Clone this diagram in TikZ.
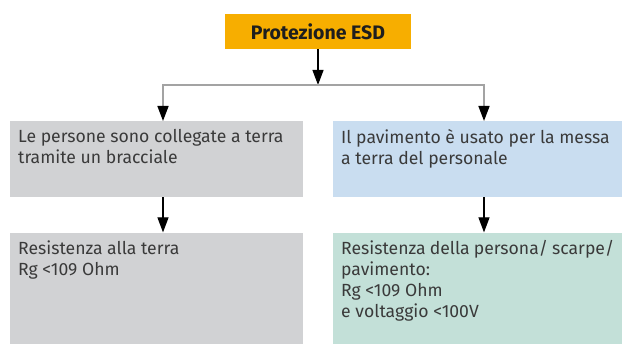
\documentclass[tikz,border=0pt]{standalone}
\usepackage{fontspec}
\setmainfont{Fira Sans}
\usepackage{tikz}
\usepackage{xcolor}
\usetikzlibrary{arrows.meta, calc, positioning}
\definecolor{esdorange}{HTML}{F7AE00}
\definecolor{wristgray}{HTML}{D1D2D4}
\definecolor{floorblue}{HTML}{C9DDF0}
\definecolor{floorgreen}{HTML}{C3E0D8}
\definecolor{textdark}{HTML}{3A3A3A}
\definecolor{titledark}{HTML}{1E1E1E}
\definecolor{linegray}{HTML}{A3A3A3}
% top-aligned text inside a fixed box
\newcommand{\boxtxt}[3]{\parbox[c][#1][t]{#2}{#3}}
\tikzset{
  % Title block
  title/.style={
    fill=esdorange, minimum width=186pt, minimum height=35pt,
    inner sep=0pt, text=titledark,
    font=\fontsize{19.5}{22}\selectfont\bfseries,
  },
  % Text boxes
  cellbox/.style={
    fill=#1, anchor=north west, inner xsep=8pt, inner ysep=8pt,
    text=textdark, align=left,
    font=\fontsize{17.6}{21}\selectfont,
  },
  % Arrows
  arr/.style={-{Triangle[length=15pt, width=11pt]}, line width=1.2pt, black},
  branch/.style={{Triangle[length=15pt, width=11pt, color=black]}-{Triangle[length=15pt, width=11pt, color=black]},
                 line width=1.5pt, linegray},
}
\begin{document}
\begin{tikzpicture}[x=1pt, y=1pt, node distance=35pt]
  \useasboundingbox (0,0) rectangle (622,344);
  \node[title] (esd) at (318,312.5) {Protezione ESD};
  \coordinate (barL) at (163,259);
  \coordinate (barR) at (484,259);
  \node[cellbox=wristgray] (pers) at (10,223)
    {\boxtxt{60pt}{277pt}{Le persone sono collegate a terra\\tramite un bracciale}};
  \node[cellbox=floorblue] (pav) at (333,223)
    {\boxtxt{60pt}{273pt}{Il pavimento è usato per la messa\\a terra del personale}};
  \node[cellbox=wristgray, below=of pers.south west, anchor=north west] (ress)
    {\boxtxt{96pt}{277pt}{Resistenza alla terra\\Rg <109 Ohm}};
  \node[cellbox=floorgreen, below=of pav.south west, anchor=north west] (resp)
    {\boxtxt{96pt}{273pt}{Resistenza della persona/ scarpe/\\pavimento:\\Rg <109 Ohm\\e voltaggio <100V}};
  \draw[arr] (esd) -- (esd |- barL);
  \draw[branch] (pers.north -| barL) -- (barL) -- (barR) -- (pav.north -| barR);
  \draw[arr] (pers.south -| barL) -- (ress.north -| barL);
  \draw[arr] (pav.south -| barR) -- (resp.north -| barR);
\end{tikzpicture}
\end{document}
